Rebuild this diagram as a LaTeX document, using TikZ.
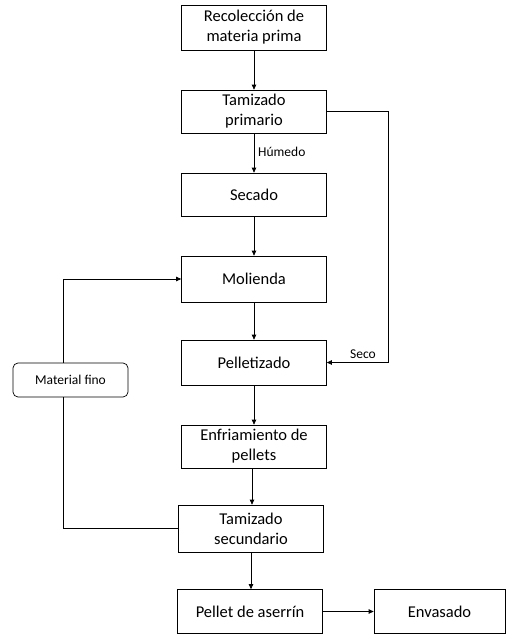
\documentclass[tikz,border=0pt]{standalone}
\usepackage{fontspec}
\setmainfont{Carlito}
\usetikzlibrary{arrows.meta}
\begin{document}
\begin{tikzpicture}[x=1pt,y=-1pt,
  box/.style={draw, line width=0.7pt, minimum width=145pt, inner sep=0pt, align=center, font=\fontsize{16.5}{20}\selectfont},
  lbl/.style={font=\fontsize{13.5}{15}\selectfont, inner sep=0pt},
  arr/.style={line width=0.7pt, -{Triangle[length=5pt,width=4.5pt]}},
  ln/.style={line width=0.7pt}]
\useasboundingbox (0,0) rectangle (507,634);
\node[box, minimum height=45pt] (b1) at (254,27.5) {Recolección de\\materia prima};
\node[box, minimum height=43pt] (b2) at (254,111.5) {Tamizado\\primario};
\node[box, minimum height=43pt] (b3) at (254,194.5) {Secado};
\node[box, minimum height=46pt] (b4) at (254,279) {Molienda};
\node[box, minimum height=45pt] (b5) at (254,362.5) {Pelletizado};
\node[box, minimum height=43pt] (b6) at (254,446.5) {Enfriamiento de\\pellets};
\node[box, minimum height=47pt] (b7) at (251,528.5) {Tamizado\\secundario};
\node[box, minimum height=44pt] (b8) at (250,611.5) {Pellet de aserrín};
\node[box, minimum height=44pt, minimum width=131pt] (b9) at (439.5,611.5) {Envasado};
\node[draw, line width=0.7pt, rounded corners=5pt, minimum width=115pt, minimum height=34pt, inner sep=0pt, font=\fontsize{13.5}{15}\selectfont] (mf) at (70.5,380) {Material fino};
\coordinate (r1) at (388,111.5);
\coordinate (r2) at (388,362.5);
\coordinate (l1) at (63,528.5);
\coordinate (l2) at (63,279);
\draw[arr] (b1) -- (b2);
\draw[arr] (b2) -- (b3);
\draw[arr] (b3) -- (b4);
\draw[arr] (b4) -- (b5);
\draw[arr] (b5) -- (b6);
\draw[arr] (b6.south -| 252,0) -- (b7.north -| 252,0);
\draw[arr] (b7.south -| 251,0) -- (b8.north -| 251,0);
\draw[arr] (b8) -- (b9);
\draw[arr] (b2.east) -- (r1) -- (r2) -- (b5.east);
\draw[ln] (b7.west) -- (l1) -- (mf.south -| l1);
\draw[arr] (mf.north -| l1) -- (l2) -- (b4.west);
\node[lbl, anchor=west] (hu) at (258,152) {Húmedo};
\node[lbl] (se) at (363,354) {Seco};
\end{tikzpicture}
\end{document}
